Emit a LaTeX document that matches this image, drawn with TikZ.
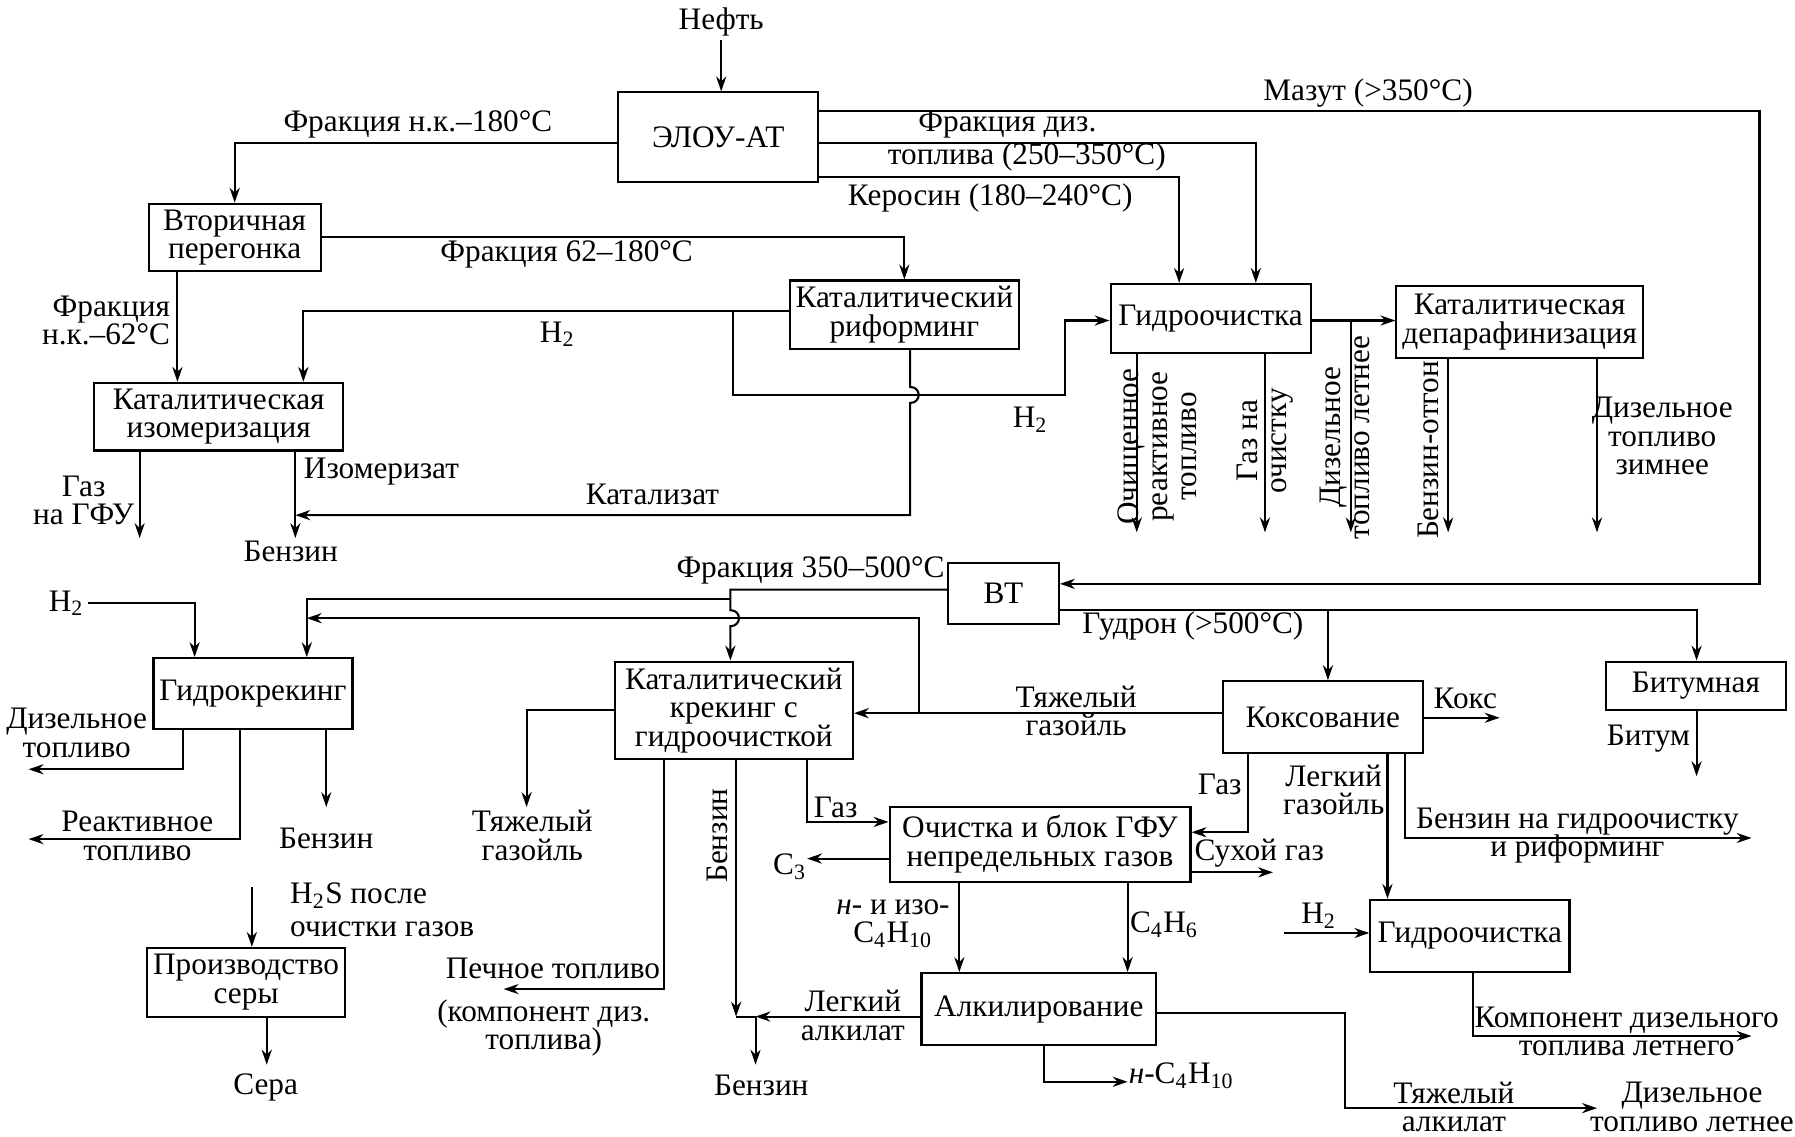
\documentclass[tikz,border=0pt]{standalone}
\usepackage{fontspec}
\setmainfont{Liberation Serif}
\usepackage{tikz}
\usetikzlibrary{arrows.meta, calc}
\newcommand{\dfont}{\fontsize{10.5}{9.6}\selectfont\lineskiplimit=-10pt}

\begin{document}
\begin{tikzpicture}[
  x=0.0135cm, y=-0.0135cm,
  line width=0.7pt,
  every node/.style={font=\dfont, inner sep=1pt},
  block/.style={draw, align=center, inner sep=2pt},
  lbl/.style={align=center},
  arr/.style={-{Stealth[length=5pt, width=3.4pt]}},
]
  \fill[white] (0,0) rectangle (1568,993);
  \useasboundingbox (0,0) rectangle (1568,993);

  % Units
  \node[block, minimum width=2.36cm, minimum height=1.06cm] (elou) at (627.5,120) {ЭЛОУ-АТ};
  \node[block, minimum width=2.03cm, minimum height=0.74cm] (vtor) at (205,207.5) {Вторичная\\перегонка};
  \node[block, minimum width=2.70cm, minimum height=0.81cm] (reform) at (790,275) {Каталитический\\риформинг};
  \node[block, minimum width=2.36cm, minimum height=0.81cm] (hydroA) at (1057.5,278) {Гидроочистка};
  \node[block, minimum width=2.90cm, minimum height=0.85cm] (depar) at (1327.5,281.5) {Каталитическая\\депарафинизация};
  \node[block, minimum width=2.94cm, minimum height=0.78cm] (izom) at (191,364) {Каталитическая\\изомеризация};
  \node[block, minimum width=1.31cm, minimum height=0.72cm] (vt) at (876.5,518.5) {ВТ};
  \node[block, minimum width=2.32cm, minimum height=0.84cm] (hcrack) at (221,606) {Гидрокрекинг};
  \node[block, minimum width=2.81cm, minimum height=1.15cm] (ccrack) at (641,620.5) {Каталитический\\крекинг с\\гидроочисткой};
  \node[block, minimum width=2.36cm, minimum height=0.85cm] (coking) at (1155.5,626.5) {Коксование};
  \node[block, minimum width=2.12cm, minimum height=0.57cm] (bitum) at (1481.5,599) {Битумная};
  \node[block, minimum width=3.55cm, minimum height=0.88cm] (gfu) at (908.5,737.5) {Очистка и блок ГФУ\\непредельных газов};
  \node[block, minimum width=2.11cm, minimum height=0.81cm] (sulfur) at (215,858) {Производство\\серы};
  \node[block, minimum width=2.77cm, minimum height=0.85cm] (alkyl) at (907.5,881.5) {Алкилирование};
  \node[block, minimum width=2.35cm, minimum height=0.85cm] (hydroB) at (1284,817.5) {Гидроочистка};

  % Crude oil and ELOU-AT products
  \node (oil) at (630,19) {Нефть};
  \draw[arr] (oil) -- (oil |- elou.north);
  \coordinate (mzA) at (1537,97);
  \coordinate (mzB) at (1537,510);
  \draw[arr] (elou.east |- mzA) -- (mzA) -- (mzB) -- (vt.east |- mzB);
  \node at (1195,81) {Мазут (>350°C)};
  \coordinate (dzA) at (1097,125);
  \draw[arr] (elou.east |- dzA) -- (dzA) -- (dzA |- hydroA.north);
  \node at (880,109) {Фракция диз.};
  \node at (897,137) {топлива (250–350°C)};
  \coordinate (krA) at (1030,155);
  \draw[arr] (elou.east |- krA) -- (krA) -- (krA |- hydroA.north);
  \node at (865,173) {Керосин (180–240°C)};
  \coordinate (nkA) at (205,125);
  \draw[arr] (elou.west |- nkA) -- (nkA) -- (nkA |- vtor.north);
  \node at (365,109) {Фракция н.к.–180°C};

  % Secondary distillation
  \coordinate (f62) at (790,207);
  \draw[arr] (vtor.east |- f62) -- (f62) -- (f62 |- reform.north);
  \node at (495,222) {Фракция 62–180°C};
  \coordinate (nk62) at (155,300);
  \draw[arr] (vtor.south -| nk62) -- (nk62 |- izom.north);
  \node[align=right, anchor=east] at (152,280) {Фракция\\н.к.–62°C};

  % Reforming
  \coordinate (h2A) at (265,272);
  \coordinate (h2B) at (640,272);
  \coordinate (h2C) at (640,345);
  \coordinate (h2D) at (930,345);
  \coordinate (h2E) at (930,280);
  \draw[arr] (reform.west |- h2A) -- (h2A) -- (h2A |- izom.north);
  \draw[arr] (h2B) -- (h2C) -- (h2D) -- (h2E) -- (hydroA.west |- h2E);
  \node at (487,292) {H\textsubscript{2}};
  \node at (900,367) {H\textsubscript{2}};
  \coordinate (ktJ) at (795,345);
  \coordinate (ktA) at (795,450);
  \coordinate (ktB) at (258,450);
  \draw[arr] (reform.south -| ktA) -- ($(ktJ)+(0,-7)$) .. controls ($(ktJ)+(10,-7)$) and ($(ktJ)+(10,7)$) .. ($(ktJ)+(0,7)$) -- (ktA) -- (ktB);
  \node at (570,432) {Катализат};

  % Isomerization
  \coordinate (gfuout) at (122,470);
  \draw[arr] (izom.south -| gfuout) -- (gfuout);
  \node[lbl] at (73,437) {Газ\\на ГФУ};
  \coordinate (isoout) at (258,470);
  \draw[arr] (izom.south -| isoout) -- (isoout);
  \node[anchor=west] at (262,412) {Изомеризат};
  \node at (254,482) {Бензин};

  % Hydrotreating and dewaxing
  \coordinate (hd) at (1180,280);
  \draw[arr] (hydroA.east |- hd) -- (depar.west |- hd);
  \coordinate (rtout) at (993,465);
  \coordinate (gsout) at (1105,465);
  \coordinate (dlout) at (1180,465);
  \draw[arr] (hydroA.south -| rtout) -- (rtout);
  \draw[arr] (hydroA.south -| gsout) -- (gsout);
  \draw[arr] (hd) -- (dlout);
  \node[lbl, rotate=90] at (1011,390) {Очищенное\\реактивное\\топливо};
  \node[lbl, rotate=90] at (1105,385) {Газ на\\очистку};
  \node[lbl, rotate=90] at (1175,382) {Дизельное\\топливо летнее};
  \coordinate (bzout) at (1265,465);
  \coordinate (dzwout) at (1395,465);
  \draw[arr] (depar.south -| bzout) -- (bzout);
  \draw[arr] (depar.south -| dzwout) -- (dzwout);
  \node[rotate=90] at (1248,393) {Бензин-отгон};
  \node[lbl] at (1452,381) {Дизельное\\топливо\\зимнее};

  % Vacuum distillation
  \coordinate (f35A) at (638,515);
  \coordinate (f35B) at (638,523);
  \coordinate (f35C) at (268,523);
  \coordinate (f35J) at (638,540);
  \draw[arr] (vt.west |- f35A) -- (f35A) -- ($(f35J)+(0,-7)$) .. controls ($(f35J)+(10,-7)$) and ($(f35J)+(10,7)$) .. ($(f35J)+(0,7)$) -- (f35A |- ccrack.north);
  \draw[arr] (f35B) -- (f35C) -- (f35C |- hcrack.north);
  \node at (708,498) {Фракция 350–500°C};
  \coordinate (gdA) at (1482,533);
  \coordinate (gdB) at (1160,533);
  \draw[arr] (vt.east |- gdA) -- (gdA) -- (gdA |- bitum.north);
  \draw[arr] (gdB) -- (gdB |- coking.north);
  \node at (1042,547) {Гудрон (>500°C)};

  % Hydrocracking
  \node (h2hc) at (58,527) {H\textsubscript{2}};
  \coordinate (h2hcA) at (170,527);
  \draw[arr] (h2hc) -- (h2hcA) -- (h2hcA |- hcrack.north);
  \coordinate (dfA) at (160,672);
  \coordinate (dfB) at (25,672);
  \draw[arr] (hcrack.south -| dfA) -- (dfA) -- (dfB);
  \node[lbl] at (67,640) {Дизельное\\топливо};
  \coordinate (rfA) at (210,733);
  \coordinate (rfB) at (25,733);
  \draw[arr] (hcrack.south -| rfA) -- (rfA) -- (rfB);
  \node[lbl] at (120,730) {Реактивное\\топливо};
  \coordinate (bzhc) at (285,705);
  \draw[arr] (hcrack.south -| bzhc) -- (bzhc);
  \node at (285,732) {Бензин};
  \coordinate (h2sA) at (220,775);
  \draw[arr] (h2sA) -- (h2sA |- sulfur.north);
  \node[align=left, anchor=west, font=\fontsize{10.5}{11.2}\selectfont] at (250,795) {H\textsubscript{2}S после\\очистки газов};
  \coordinate (sout) at (233,930);
  \draw[arr] (sulfur.south -| sout) -- (sout);
  \node at (232,950) {Сера};

  % Catalytic cracking
  \coordinate (tgL1) at (460,620);
  \coordinate (tgL2) at (460,705);
  \draw[arr] (ccrack.west |- tgL1) -- (tgL1) -- (tgL2);
  \node[lbl] at (465,730) {Тяжелый\\газойль};
  \coordinate (pA) at (580,864);
  \coordinate (pB) at (440,864);
  \draw[arr] (ccrack.south -| pA) -- (pA) -- (pB);
  \node at (483,846) {Печное топливо};
  \node[lbl] at (475,898) {(компонент диз.\\топлива)};
  \coordinate (bzcA) at (643,888);
  \coordinate (bzcB) at (660,888);
  \coordinate (bzcC) at (660,930);
  \draw[arr] (ccrack.south -| bzcA) -- (bzcA);
  \node[rotate=90] at (627,730) {Бензин};
  \draw (bzcB) -- (bzcA);
  \draw[arr] (alkyl.west |- bzcB) -- (bzcB);
  \draw[arr] (bzcB) -- (bzcC);
  \node at (665,948) {Бензин};
  \coordinate (gzA) at (705,718);
  \draw[arr] (ccrack.south -| gzA) -- (gzA) -- (gfu.west |- gzA);
  \node at (730,705) {Газ};

  % Coking
  \coordinate (tgA) at (803,623);
  \coordinate (tgB) at (803,540);
  \coordinate (tgC) at (268,540);
  \draw[arr] (coking.west |- tgA) -- (ccrack.east |- tgA);
  \draw[arr] (tgA) -- (tgB) -- (tgC);
  \node[lbl] at (940,621) {Тяжелый\\газойль};
  \coordinate (koks) at (1310,627);
  \draw[arr] (coking.east |- koks) -- (koks);
  \node at (1280,610) {Кокс};
  \coordinate (kgA) at (1090,727);
  \draw[arr] (coking.south -| kgA) -- (kgA) -- (gfu.east |- kgA);
  \node[anchor=east] at (1088,685) {Газ};
  \coordinate (lgA) at (1212,700);
  \draw[arr] (coking.south -| lgA) -- (lgA |- hydroB.north);
  \node[lbl] at (1165,690) {Легкий\\газойль};
  \coordinate (bgA) at (1227,732);
  \coordinate (bgB) at (1530,732);
  \draw[arr] (coking.south -| bgA) -- (bgA) -- (bgB);
  \node[lbl] at (1378,730) {Бензин на гидроочистку\\и риформинг};
  \coordinate (btout) at (1482,678);
  \draw[arr] (bitum.south -| btout) -- (btout);
  \node at (1440,645) {Битум};

  % Gas fractionation
  \coordinate (c3) at (705,750);
  \draw[arr] (gfu.west |- c3) -- (c3);
  \node at (690,757) {C\textsubscript{3}};
  \coordinate (dry) at (1112,762);
  \draw[arr] (gfu.east |- dry) -- (dry);
  \node at (1100,745) {Сухой газ};
  \coordinate (c4a) at (838,800);
  \draw[arr] (gfu.south -| c4a) -- (c4a |- alkyl.north);
  \node[lbl] at (780,807) {\textit{н}- и изо-\\C\textsubscript{4}H\textsubscript{10}};
  \coordinate (c4b) at (985,800);
  \draw[arr] (gfu.south -| c4b) -- (c4b |- alkyl.north);
  \node at (1017,808) {C\textsubscript{4}H\textsubscript{6}};

  % Alkylation
  \node[lbl] at (745,887) {Легкий\\алкилат};
  \coordinate (nbA) at (912,945);
  \coordinate (nbB) at (985,945);
  \draw[arr] (alkyl.south -| nbA) -- (nbA) -- (nbB);
  \node at (1032,940) {\textit{н}-C\textsubscript{4}H\textsubscript{10}};
  \coordinate (taA) at (1175,885);
  \coordinate (taB) at (1175,968);
  \coordinate (taC) at (1395,968);
  \draw[arr] (alkyl.east |- taA) -- (taA) -- (taB) -- (taC);
  \node[lbl] at (1270,967) {Тяжелый\\алкилат};
  \node[lbl] at (1478,967) {Дизельное\\топливо летнее};

  % Second hydrotreating
  \node at (1152,800) {H\textsubscript{2}};
  \coordinate (h2bA) at (1122,815);
  \draw[arr] (h2bA) -- (hydroB.west |- h2bA);
  \coordinate (kdA) at (1287,905);
  \coordinate (kdB) at (1530,905);
  \draw[arr] (hydroB.south -| kdA) -- (kdA) -- (kdB);
  \node[lbl] at (1421,901) {Компонент дизельного\\топлива летнего};
\end{tikzpicture}
\end{document}
